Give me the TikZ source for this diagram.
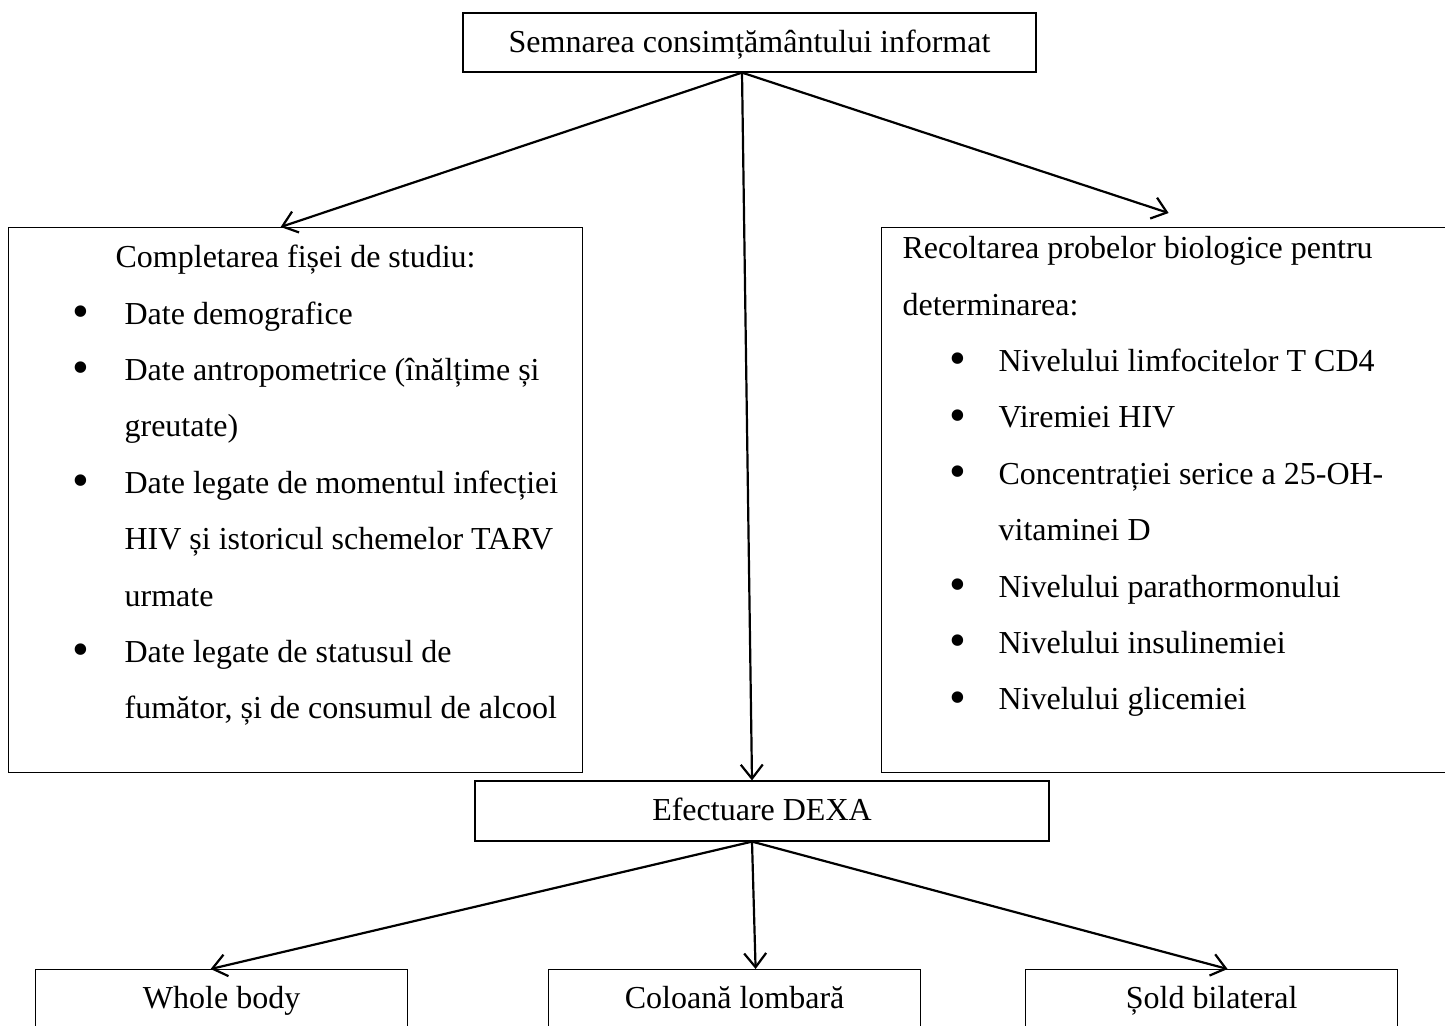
\documentclass[tikz,border=0pt]{standalone}
\usepackage{fontspec}
\setmainfont{Liberation Serif}
\usetikzlibrary{arrows.meta, positioning}

% bullets for the two list boxes
\newcommand{\bigbul}{\raisebox{-1.6pt}{\fontsize{24}{0}\selectfont\textbullet}}
\newcommand{\bulL}{\makebox[58pt][l]{\hspace{32pt}\bigbul}}
\newcommand{\contL}{\hspace*{58pt}}
\newcommand{\bulR}{\makebox[58.5pt][l]{\hspace{34pt}\bigbul}}
\newcommand{\contR}{\hspace*{58.5pt}}

\begin{document}
\begin{tikzpicture}[
			x=0.5pt, y=-0.5pt,
			font=\fontsize{16}{28.2}\selectfont,
			stepblock/.style = {rectangle, draw, line width=0.6pt, text height=12.5pt, text depth=3pt,
					minimum width=286.5pt, minimum height=29.5pt, inner sep=0pt},
			listblock/.style = {rectangle, draw, line width=0.6pt,
					anchor=north west, inner sep=0pt},
			siteblock/.style = {rectangle, draw, line width=0.6pt, anchor=north west,
					text height=12pt, text depth=3pt,
					minimum width=186pt, minimum height=30pt, inner sep=0pt},
			line/.style = {draw, line width=1.1pt, -{Straight Barb[length=7pt,width=11pt]}},
		]
		\clip (0,0) rectangle (1445,1025);

		% Consent node
		\node [stepblock] (consimt) at (749.5,42.5) {Semnarea consimțământului informat};

		% Study sheet
		\node [listblock] (fisa) at (8,227) {\parbox[t][272.5pt][t]{287pt}{\raggedright
				{\centering\rule{0pt}{20pt}Completarea fișei de studiu:\par}
				\bulL Date demografice\\
				\bulL Date antropometrice (înălțime și\\
				\contL greutate)\\
				\bulL Date legate de momentul infecției\\
				\contL HIV și istoricul schemelor TARV\\
				\contL urmate\\
				\bulL Date legate de statusul de\\
				\contL fumător, și de consumul de alcool}};

		% Biological samples
		\node [listblock] (probe) at (881,227) {\parbox[t][272.5pt][t]{287pt}{\raggedright
				\hspace*{10.5pt}\rule{0pt}{15.5pt}Recoltarea probelor biologice pentru\\
				\hspace*{10.5pt}determinarea:\\
				\bulR Nivelului limfocitelor T CD4\\
				\bulR Viremiei HIV\\
				\bulR Concentrației serice a 25-OH-\\
				\contR vitaminei D\\
				\bulR Nivelului parathormonului\\
				\bulR Nivelului insulinemiei\\
				\bulR Nivelului glicemiei}};

		% DEXA node
		\node [stepblock, minimum width=287pt, minimum height=30pt] (dexa) at (762,811) {Efectuare DEXA};

		% DEXA sites
		\node [siteblock] (whole) at (35,969) {Whole body};
		\node [siteblock] (lomb) at (548,969) {Coloană lombară};
		\node [siteblock] (sold) at (1025,969) {Șold bilateral};

		% Draw arrows
		\path [line] ([xshift=-3.75pt]consimt.south) -- ([xshift=-7.5pt]fisa.north);
		\path [line] ([xshift=-3.75pt]consimt.south) -- ([yshift=7pt]probe.north);
		\path [line] ([xshift=-3.75pt]consimt.south) -- ([xshift=-5pt]dexa.north);
		\path [line] ([xshift=-5pt]dexa.south) -- ([xshift=-5.5pt]whole.north);
		\path [line] ([xshift=-5pt]dexa.south) -- ([xshift=10.5pt]lomb.north);
		\path [line] ([xshift=-5pt]dexa.south) -- ([xshift=8pt]sold.north);
	\end{tikzpicture}
\end{document}
